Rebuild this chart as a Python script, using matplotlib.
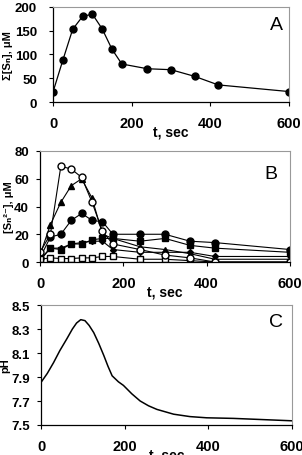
import matplotlib
matplotlib.use("Agg")
import matplotlib.pyplot as plt

plt.rcParams['font.family'] = ['Liberation Sans', 'DejaVu Sans']

# panel A: total polysulfide
t_a = [0, 25, 50, 75, 100, 125, 150, 175, 240, 300, 360, 420, 600]
sum_s = [21, 88, 153, 180, 185, 154, 111, 80, 70, 68, 54, 36, 22]

# panel B: individual polysulfides
t_b = [0, 25, 50, 75, 100, 125, 150, 175, 240, 300, 360, 420, 600]
s_open_circ = [7, 20, 69, 67, 61, 43, 22, 13, 9, 5, 3, 0, 0]
s_triangle = [5, 27, 43, 55, 60, 46, 20, 17, 11, 9, 6, 2, 2]
s_circle = [3, 18, 20, 30, 35, 30, 29, 20, 20, 20, 15, 14, 9]
s_square = [2, 10, 9, 13, 13, 16, 17, 17, 15, 17, 12, 10, 7]
s_diamond = [1, 10, 10, 13, 14, 15, 15, 9, 7, 7, 7, 4, 4]
s_open_sq = [2, 3, 2.5, 2.5, 3, 3, 4, 4, 2, 2, 1, 0, 0]

# panel C: pH
t_c = [0, 15, 30, 45, 62, 75, 85, 95, 105, 115, 126, 138, 150, 160, 170,
       185, 197, 217, 237, 257, 277, 297, 317, 356, 396, 460, 530, 600]
ph = [7.855, 7.93, 8.02, 8.12, 8.22, 8.30, 8.35, 8.378, 8.37, 8.33, 8.27, 8.18, 8.08, 7.99, 7.91,
      7.86, 7.83, 7.76, 7.70, 7.66, 7.63, 7.61, 7.59, 7.57, 7.56, 7.555, 7.545, 7.535]

fig = plt.figure(figsize=(3.02, 4.56), dpi=100)
axA = fig.add_axes([0.1755, 0.7741, 0.7815, 0.2084])
axB = fig.add_axes([0.1325, 0.4232, 0.8275, 0.2435])
axC = fig.add_axes([0.1358, 0.0658, 0.8312, 0.2631])


def style(ax, yticks, ylabels, letter, lx, ly, ypad):
    ax.set_xlim(0, 600)
    ax.set_xticks([0, 200, 400, 600])
    ax.set_yticks(yticks)
    ax.set_yticklabels(ylabels)
    for s in ['top', 'right']:
        ax.spines[s].set_color('#999999')
        ax.spines[s].set_linewidth(0.8)
    for s in ['left', 'bottom']:
        ax.spines[s].set_color('black')
        ax.spines[s].set_linewidth(0.9)
    ax.tick_params(direction='out', length=3, width=0.8)
    ax.tick_params(axis='x', pad=7, labelsize=10.5)
    ax.tick_params(axis='y', pad=ypad, labelsize=9.5)
    for lab in ax.get_xticklabels() + ax.get_yticklabels():
        lab.set_fontweight('bold')
    ax.text(lx, ly, letter, transform=ax.transAxes, ha='right', va='top', fontsize=14)
    ax.set_xlabel('t, sec', fontsize=10, fontweight='bold', labelpad=-4)


axA.plot(t_a, sum_s, color='black', lw=0.9, marker='o', ms=5)
axA.set_ylim(0, 200)
style(axA, [0, 50, 100, 150, 200], ['0', '50', '100', '150', '200'], 'A', 0.975, 0.9, 8.5)
axA.set_ylabel('Σ[Sₙ], μM', fontsize=8, fontweight='bold')
axA.yaxis.set_label_coords(-0.17, 0.5)

axB.plot(t_b, s_circle, color='black', lw=0.8, marker='o', ms=5)
axB.plot(t_b, s_square, color='black', lw=0.8, marker='s', ms=4.5)
axB.plot(t_b, s_diamond, color='black', lw=0.8, marker='D', ms=3)
axB.plot(t_b, s_triangle, color='black', lw=0.8, marker='^', ms=5)
axB.plot(t_b, s_open_sq, color='black', lw=0.8, marker='s', ms=4.5, mfc='white')
axB.plot(t_b, s_open_circ, color='black', lw=0.8, marker='o', ms=5, mfc='white')
axB.set_ylim(0, 80)
style(axB, [0, 20, 40, 60, 80], ['0', '20', '40', '60', '80'], 'B', 0.95, 0.87, 5)
axB.set_ylabel('[Sₙ²⁻], μM', fontsize=8, fontweight='bold')
axB.yaxis.set_label_coords(-0.106, 0.5)

axC.plot(t_c, ph, color='black', lw=1.1)
axC.set_ylim(7.5, 8.5)
style(axC, [7.5, 7.7, 7.9, 8.1, 8.3, 8.5], ['7.5', '7.7', '7.9', '8.1', '8.3', '8.5'], 'C', 0.965, 0.93, 5)
axC.set_ylabel('pH', fontsize=8, fontweight='bold')
axC.yaxis.set_label_coords(-0.123, 0.5)

fig.savefig('out.png', dpi=100)
